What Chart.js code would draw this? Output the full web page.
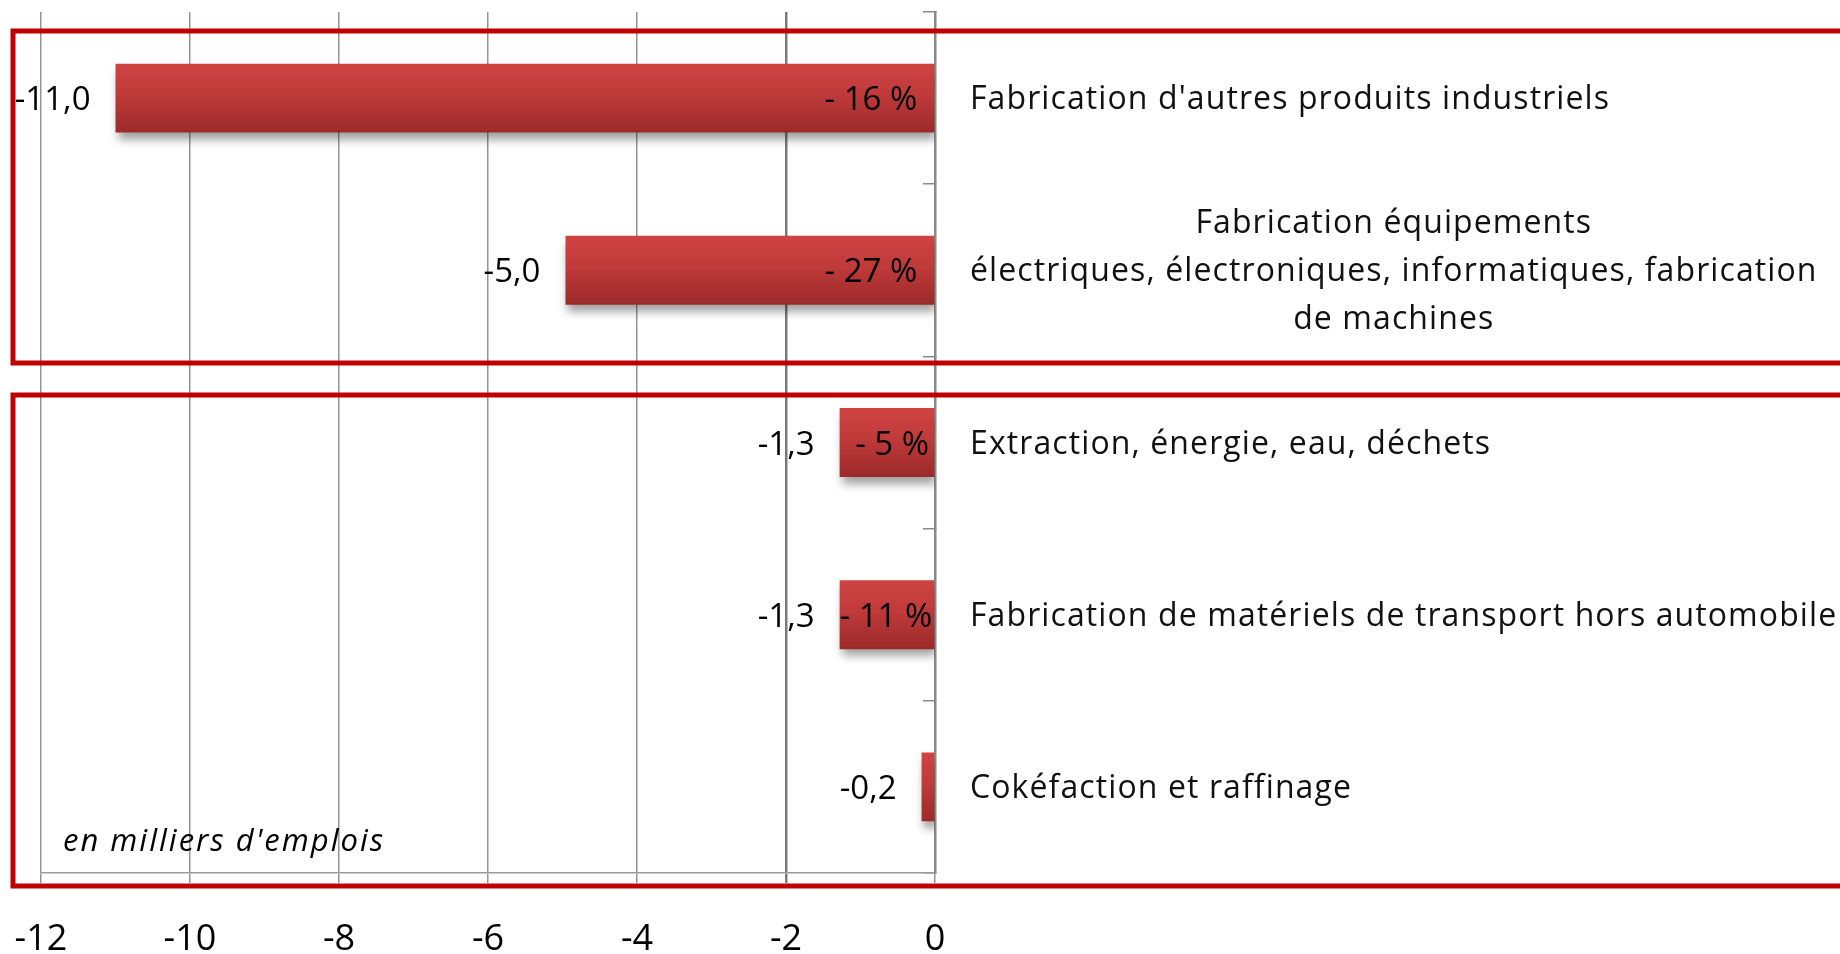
<!DOCTYPE html>
<html>
<head>
<meta charset="utf-8">
<script src="https://cdn.jsdelivr.net/npm/chart.js@4.4.1/dist/chart.umd.min.js"></script>
<style>
    html, body { margin: 0; padding: 0; background: #fff; }
    #wrap { width: 1840px; height: 954px; }
</style>
</head>
<body>
<div id="wrap"><canvas id="chart" width="1840" height="954"></canvas></div>
<script>
const categories = [
    "Fabrication d'autres produits industriels",
    ["Fabrication équipements", "électriques, électroniques, informatiques, fabrication", "de machines"],
    "Extraction, énergie, eau, déchets",
    "Fabrication de matériels de transport hors automobile",
    "Cokéfaction et raffinage"
];
// variation en milliers d'emplois
const values = [-11.0, -4.96, -1.28, -1.28, -0.18];
// variation en %
const percents = [-16, -27, -5, -11, null];
const xTicks = [-12, -10, -8, -6, -4, -2, 0];
const unitNote = "en milliers d'emplois";

const FONT = "'Open Sans', 'DejaVu Sans', sans-serif";

function fmt(v) {
    return (Math.round(v * 10) / 10).toFixed(1).replace('.', ',');
}

function barGradient(context) {
    const chart = context.chart;
    const y = chart.scales.y;
    if (!chart.chartArea || !y) return '#BE3838';
    const c = y.getPixelForValue(context.dataIndex);
    const h = 35;
    const g = chart.ctx.createLinearGradient(0, c - h, 0, c + h);
    g.addColorStop(0, '#D04343');
    g.addColorStop(0.45, '#C03A3A');
    g.addColorStop(1, '#9B2929');
    return g;
}

const decorations = {
    id: 'decorations',
    beforeDatasetsDraw(chart) {
        const ctx = chart.ctx;
        ctx.save();
        ctx.shadowColor = 'rgba(0,0,0,0.38)';
        ctx.shadowBlur = 9;
        ctx.shadowOffsetX = 2;
        ctx.shadowOffsetY = 7;
    },
    afterDatasetsDraw(chart) {
        const ctx = chart.ctx;
        ctx.restore();
        const meta = chart.getDatasetMeta(0);
        ctx.save();
        ctx.fillStyle = '#000';
        ctx.textBaseline = 'alphabetic';
        meta.data.forEach((bar, i) => {
            ctx.font = '33px ' + FONT;
            ctx.textAlign = 'right';
            ctx.fillText(fmt(values[i]), bar.x - 25, bar.y + 12);
            if (percents[i] !== null) {
                const txt = '- ' + Math.abs(percents[i]) + ' %';
                const w = ctx.measureText(txt).width;
                const barW = bar.base - bar.x;
                const pad = Math.min(17, Math.max(2, (barW - w) / 4));
                ctx.fillText(txt, bar.base - pad, bar.y + 12);
            }
        });
        ctx.restore();
    },
    afterDraw(chart) {
        const ctx = chart.ctx;
        const y = chart.scales.y;
        ctx.save();
        // cadres rouges
        ctx.strokeStyle = '#C00000';
        ctx.lineWidth = 5;
        ctx.strokeRect(13, 31, 1900, 332);
        ctx.strokeRect(13, 395, 1900, 491);

        // libellés des secteurs
        ctx.fillStyle = '#111';
        ctx.font = '32px ' + FONT;
        ctx.letterSpacing = '1.1px';
        ctx.textAlign = 'center';
        ctx.textBaseline = 'alphabetic';
        const x0 = chart.chartArea.right + 35;
        categories.forEach((lab, i) => {
            const lines = Array.isArray(lab) ? lab : [lab];
            const maxW = Math.max(...lines.map(l => ctx.measureText(l).width));
            const cy = y.getPixelForValue(i);
            lines.forEach((l, j) => {
                ctx.fillText(l, x0 + maxW / 2, cy + 11 + (j - (lines.length - 1) / 2) * 48);
            });
        });

        // unité
        ctx.font = 'italic 31px ' + FONT;
        ctx.letterSpacing = '2px';
        ctx.textAlign = 'left';
        ctx.fillStyle = '#000';
        ctx.fillText(unitNote, 63, 851);
        ctx.restore();
    }
};

new Chart(document.getElementById('chart'), {
    type: 'bar',
    data: {
        labels: categories,
        datasets: [{
            data: values,
            backgroundColor: barGradient,
            borderWidth: 0,
            barPercentage: 0.8,
            categoryPercentage: 0.5
        }]
    },
    options: {
        indexAxis: 'y',
        responsive: false,
        animation: false,
        layout: { padding: { left: 41, top: 12, right: 0, bottom: 0 } },
        plugins: {
            legend: { display: false },
            tooltip: { enabled: false }
        },
        scales: {
            x: {
                min: -12,
                max: 0,
                afterBuildTicks: (scale) => { scale.ticks = xTicks.map(v => ({ value: v })); },
                afterFit: (scale) => {
                    scale.height = 81;
                    scale.paddingLeft = 0;
                    scale.paddingRight = 0;
                },
                grid: {
                    color: (c) => (c.tick && c.tick.value === -2) ? '#7a7a7a' : '#949494',
                    lineWidth: (c) => (c.tick && c.tick.value === -2) ? 2.5 : 1.5,
                    tickLength: 10
                },
                border: { display: true, color: '#9a9a9a', width: 1.5 },
                ticks: {
                    color: '#000',
                    padding: 39,
                    font: { family: FONT, size: 36, lineHeight: 1 }
                }
            },
            y: {
                position: 'right',
                offset: true,
                afterFit: (scale) => { scale.width = 905; },
                grid: {
                    offset: true,
                    drawOnChartArea: false,
                    tickLength: -12,
                    color: '#8a8a8a',
                    lineWidth: 1.5
                },
                border: { display: true, color: '#8a8a8a', width: 2.5 },
                ticks: { display: false }
            }
        }
    },
    plugins: [decorations]
});
</script>
</body>
</html>
